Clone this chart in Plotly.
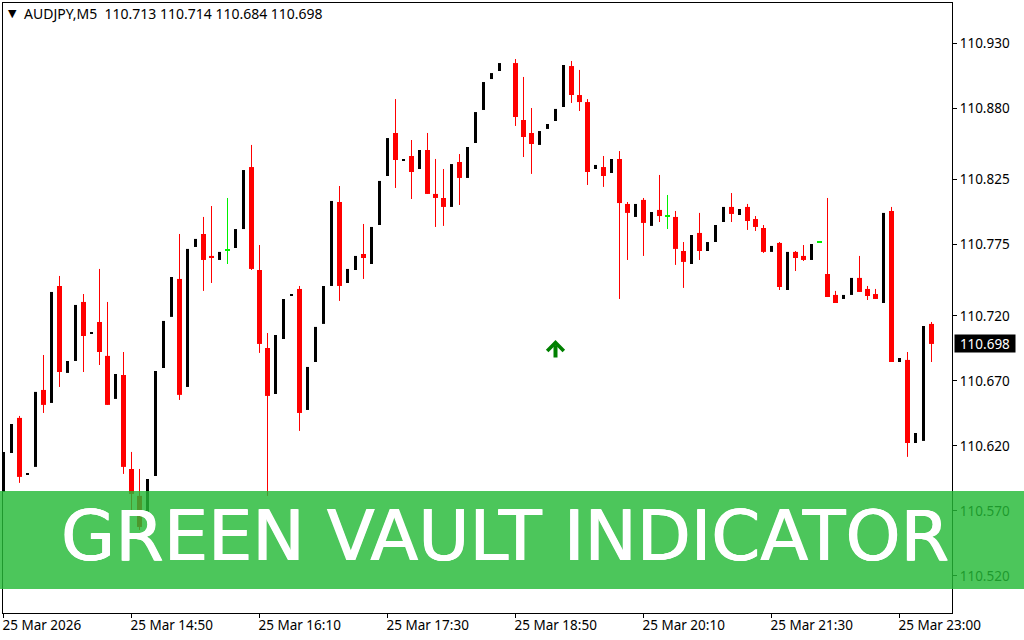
import plotly.graph_objects as go

# M5 candles, index 0 is 25 Mar 13:30. None = bar not drawn on the chart.
bar_open = [
    110.5846, 110.6146, 110.6416, 110.5977, 110.6039, 110.6631, 110.6531, 110.7431, 110.6762, 110.6854,
    110.7308, 110.7062, 110.7154, 110.6893, 110.6562, 110.6746, 110.6023, 110.5816, 110.5669, 110.5969,
    110.6800, 110.7193, 110.7485, 110.6654, 110.7731, 110.7831, 110.7662, 110.7631, 110.7708, 110.7723,
    110.7869, 110.8346, 110.7554, 110.6954, 110.6600, 110.7023, 110.7354, 110.7408, 110.6477, 110.6846,
    110.7139, 110.7431, 110.8077, 110.7454, 110.7554, 110.7677, 110.7600, 110.7900, 110.8277, 110.8608,
    110.8400, 110.8431, 110.8331, 110.8477, 110.8139, 110.8108, 110.8039, 110.8385, 110.8262, 110.8531,
    110.8785, 110.9023, 110.9085, None, 110.9146, 110.8708, 110.8608, 110.8516, 110.8639, 110.8700,
    110.8808, 110.9123, 110.8900, 110.8846, 110.8331, 110.8346, 110.8300, 110.8408, 110.8062, 110.7962,
    110.8093, 110.7893, 110.8016, 110.7969, 110.7962, 110.7700, 110.7600, 110.7839, 110.7700, 110.7769,
    110.7923, 110.8039, 110.7977, 110.8039, 110.7946, 110.7877, 110.7693, 110.7762, 110.7400, 110.7693,
    110.7662, 110.7631, 110.7769, 110.7523, 110.7362, 110.7331, 110.7362, 110.7493, 110.7408, 110.7369,
    110.7300, 110.8008, 110.6846, 110.6862, 110.6223, 110.6239, 110.7139,
]
bar_high = [
    110.6154, 110.6369, 110.6431, 110.5985, 110.6616, 110.6900, 110.7385, 110.7508, 110.6854, 110.7285,
    110.7369, 110.7077, 110.7562, 110.7308, 110.6754, 110.6923, 110.6154, 110.6023, 110.5946, 110.6777,
    110.7162, 110.7500, 110.7831, 110.7716, 110.7793, 110.7962, 110.8046, 110.7693, 110.8108, 110.7869,
    110.8323, 110.8516, 110.7746, 110.7069, 110.7054, 110.7331, 110.7362, 110.7431, 110.6808, 110.7116,
    110.7431, 110.8085, 110.8200, 110.7562, 110.7662, 110.7908, 110.7885, 110.8239, 110.8569, 110.8869,
    110.8408, 110.8554, 110.8477, 110.8608, 110.8408, 110.8331, 110.8369, 110.8446, 110.8500, 110.8769,
    110.9000, 110.9069, 110.9146, None, 110.9177, 110.9039, 110.8800, 110.8623, 110.8677, 110.8793,
    110.9131, 110.9162, 110.9093, 110.8869, 110.8362, 110.8431, 110.8408, 110.8469, 110.8077, 110.8062,
    110.8108, 110.8000, 110.8285, 110.8131, 110.8008, 110.7769, 110.7823, 110.7993, 110.7769, 110.7900,
    110.8039, 110.8146, 110.8023, 110.8062, 110.7969, 110.7900, 110.7739, 110.7769, 110.7693, 110.7700,
    110.7746, 110.7754, 110.7769, 110.8108, 110.7393, 110.7362, 110.7493, 110.7662, 110.7431, 110.7408,
    110.7993, 110.8039, 110.6877, 110.6923, 110.6300, 110.7123, 110.7154,
]
bar_low = [
    110.5846, 110.6146, 110.5916, 110.5977, 110.6039, 110.6454, 110.6531, 110.6654, 110.6762, 110.6854,
    110.6769, 110.7062, 110.6823, 110.6516, 110.6562, 110.5985, 110.5685, 110.5554, 110.5669, 110.5969,
    110.6800, 110.7193, 110.6554, 110.6654, 110.7731, 110.7393, 110.7454, 110.7631, 110.7600, 110.7723,
    110.7869, 110.7554, 110.6916, 110.5816, 110.6600, 110.7023, 110.7354, 110.6316, 110.6477, 110.6846,
    110.7139, 110.7431, 110.7316, 110.7454, 110.7554, 110.7485, 110.7600, 110.7900, 110.8277, 110.8185,
    110.8400, 110.8100, 110.8331, 110.8139, 110.7885, 110.7893, 110.8039, 110.8054, 110.8262, 110.8531,
    110.8785, 110.9023, 110.9085, None, 110.8662, 110.8423, 110.8293, 110.8516, 110.8639, 110.8700,
    110.8808, 110.8839, 110.8777, 110.8208, 110.8331, 110.8193, 110.8300, 110.7331, 110.7631, 110.7962,
    110.7662, 110.7893, 110.7923, 110.7869, 110.7593, 110.7416, 110.7600, 110.7631, 110.7700, 110.7769,
    110.7923, 110.7923, 110.7977, 110.7862, 110.7854, 110.7685, 110.7693, 110.7400, 110.7400, 110.7546,
    110.7623, 110.7631, 110.7769, 110.7346, 110.7300, 110.7331, 110.7362, 110.7385, 110.7323, 110.7331,
    110.7300, 110.6846, 110.6846, 110.6116, 110.6223, 110.6239, 110.6846,
]
bar_close = [
    110.6154, 110.6369, 110.5962, 110.5985, 110.6616, 110.6516, 110.7385, 110.6769, 110.6854, 110.7285,
    110.7046, 110.7077, 110.6923, 110.6516, 110.6754, 110.6039, 110.5831, 110.5577, 110.5946, 110.6777,
    110.7162, 110.7500, 110.6593, 110.7716, 110.7793, 110.7631, 110.7646, 110.7693, 110.7708, 110.7869,
    110.8323, 110.7562, 110.6985, 110.6585, 110.7054, 110.7331, 110.7362, 110.6454, 110.6808, 110.7116,
    110.7431, 110.8085, 110.7431, 110.7562, 110.7662, 110.7646, 110.7885, 110.8239, 110.8569, 110.8400,
    110.8408, 110.8308, 110.8477, 110.8139, 110.8108, 110.8039, 110.8369, 110.8262, 110.8500, 110.8769,
    110.9000, 110.9069, 110.9146, None, 110.8731, 110.8577, 110.8523, 110.8623, 110.8677, 110.8793,
    110.9131, 110.8900, 110.8846, 110.8308, 110.8362, 110.8277, 110.8408, 110.8069, 110.7993, 110.8062,
    110.7916, 110.8000, 110.7969, 110.7969, 110.7716, 110.7616, 110.7823, 110.7700, 110.7769, 110.7900,
    110.8039, 110.7985, 110.8023, 110.7931, 110.7885, 110.7693, 110.7739, 110.7423, 110.7693, 110.7646,
    110.7631, 110.7754, 110.7769, 110.7346, 110.7300, 110.7362, 110.7493, 110.7385, 110.7354, 110.7331,
    110.7993, 110.6846, 110.6877, 110.6223, 110.6300, 110.7123, 110.6985,
]

y_ticks = [110.930, 110.880, 110.825, 110.775, 110.720, 110.670, 110.620, 110.570, 110.520]
x_ticks = [0, 16, 32, 48, 64, 80, 96, 112]
x_labels = ["25 Mar 2026", "25 Mar 14:50", "25 Mar 16:10", "25 Mar 17:30",
            "25 Mar 18:50", "25 Mar 20:10", "25 Mar 21:30", "25 Mar 23:00"]
signal_bar = [69]
signal_price = [110.7015]
last_price = 110.698
header = "AUDJPY,M5  110.713 110.714 110.684 110.698"

TICK_FONT = "Noto Sans"
BAR_PX = 8  # one bar step on screen
DOJI = 0.0004  # half a pixel of price, so a flat bar still shows


def px_x(p):
    return (p - 3) / 949


def px_y(p):
    return (613 - p) / 610


def pick(kind):
    idx = []
    for i, o in enumerate(bar_open):
        if o is None:
            continue
        c = bar_close[i]
        k = "up" if c > o else "down" if c < o else "flat"
        if k == kind:
            idx.append(i)
    return idx


def bodies(idx, lo, hi, color, px):
    return go.Bar(
        x=idx,
        y=[h - l for l, h in zip(lo, hi)],
        base=lo,
        width=px / BAR_PX,
        marker=dict(color=color, line=dict(width=0)),
        hoverinfo="skip",
        showlegend=False,
    )


def wicks(idx, color):
    xs, ys = [], []
    for i in idx:
        xs += [i, i, None]
        ys += [bar_low[i], bar_high[i], None]
    return go.Scatter(x=xs, y=ys, mode="lines", line=dict(color=color, width=1),
                      hoverinfo="skip", showlegend=False)


fig = go.Figure()

# black bars show only a body, red and green ones have a wick too
up = pick("up")
down = pick("down")
flat = pick("flat")
fig.add_trace(bodies(up, [bar_open[i] for i in up], [bar_close[i] for i in up], "#000000", 3))
fig.add_trace(bodies(down, [bar_close[i] for i in down], [bar_open[i] for i in down], "#ff0000", 5))
fig.add_trace(bodies(flat, [bar_open[i] - DOJI for i in flat], [bar_open[i] + DOJI for i in flat], "#00f000", 5))
fig.add_trace(wicks(down, "#ff0000"))
fig.add_trace(wicks(flat, "#00f000"))

fig.update_layout(
    width=1024,
    height=640,
    barmode="overlay",
    margin=dict(l=3, r=72, t=3, b=27),
    paper_bgcolor="white",
    plot_bgcolor="white",
    font=dict(family=TICK_FONT, size=13.5, color="black"),
    xaxis=dict(
        range=[-0.0625, 118.5625],
        showgrid=False,
        zeroline=False,
        showline=True,
        mirror=True,
        linecolor="black",
        linewidth=1,
        ticks="outside",
        ticklen=4,
        tickcolor="black",
        tickvals=x_ticks,
        ticktext=x_labels,
        tickangle=0,
        ticklabelposition="outside right",
        ticklabelshift=-2,
        tickfont=dict(family=TICK_FONT, size=13.5),
    ),
    yaxis=dict(
        side="right",
        range=[110.4915, 110.9608],
        showgrid=False,
        zeroline=False,
        showline=True,
        mirror=True,
        linecolor="black",
        linewidth=1,
        ticks="outside",
        ticklen=4,
        tickcolor="black",
        tickvals=y_ticks,
        ticktext=[f"{v:.3f}" for v in y_ticks],
        tickfont=dict(family=TICK_FONT, size=13.5),
    ),
    shapes=[
        dict(type="rect", layer="above", xref="paper", yref="paper",
             x0=px_x(0), x1=px_x(1024), y0=px_y(589), y1=px_y(491),
             fillcolor="rgba(37,185,55,0.82)", line=dict(width=0)),
    ],
)

# buy signal arrow
fig.add_annotation(
    x=signal_bar[0], y=signal_price[0], ax=0, ay=19, text="",
    showarrow=True, arrowhead=4, arrowsize=0.8, arrowwidth=4, arrowcolor="#008000",
)
# last price box
fig.add_annotation(
    xref="paper", x=px_x(954), xanchor="left", yref="y", y=last_price, yshift=1,
    text=f"{last_price:.3f}", showarrow=False, bgcolor="black", width=58, height=15,
    borderpad=1, font=dict(family=TICK_FONT, size=13.5, color="white"),
)
# chart header
fig.add_annotation(
    xref="paper", yref="paper", x=px_x(6), y=px_y(14), xanchor="left", yanchor="middle",
    text="▼", showarrow=False, font=dict(family="DejaVu Sans", size=11, color="black"),
)
fig.add_annotation(
    xref="paper", yref="paper", x=px_x(22), y=px_y(14), xanchor="left", yanchor="middle",
    text=header, showarrow=False, font=dict(family=TICK_FONT, size=14, color="black"),
)
# banner title
fig.add_annotation(
    xref="paper", yref="paper", x=px_x(505), y=px_y(536), xanchor="center", yanchor="middle",
    text="GREEN VAULT INDICATOR", showarrow=False,
    font=dict(family="DejaVu Sans", size=70, color="white",
              shadow="0.6px 0 0 white, -0.6px 0 0 white"),
)

fig.write_html("out.html", config=dict(displayModeBar=False),
               post_script="document.body.style.margin='0';")
